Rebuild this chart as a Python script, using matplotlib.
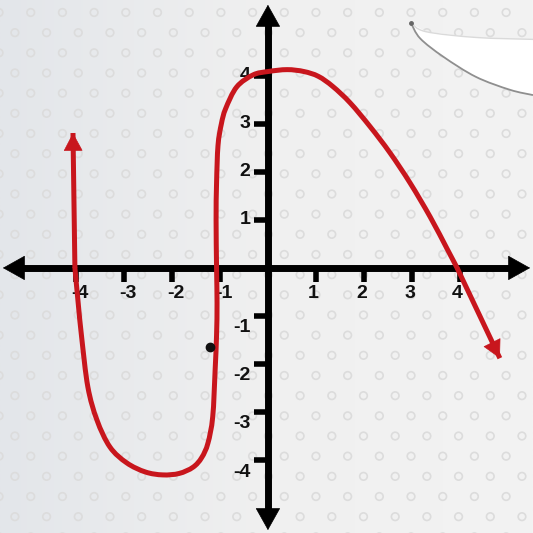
import numpy as np
import matplotlib
matplotlib.use('Agg')
import matplotlib.pyplot as plt
from matplotlib.patches import Polygon, PathPatch
from matplotlib.path import Path

# curve (data units)
curve_x = [-4.06, -4.02, -3.95, -3.88, -3.75, -3.56, -3.29, -2.94, -2.55, -2.19,
           -1.85, -1.56, -1.38, -1.25, -1.15, -1.10, -1.07, -1.06, -1.07, -1.08,
           -1.07, -1.04, -0.97, -0.88, -0.65, -0.31, 0.00, 0.40, 0.75, 1.05,
           1.35, 1.71, 2.13, 2.54, 2.96, 3.38, 3.73, 3.94, 4.83]
curve_y = [2.81, 0.00, -0.75, -1.44, -2.48, -3.17, -3.73, -4.06, -4.25, -4.31,
           -4.28, -4.15, -3.95, -3.65, -3.10, -2.13, -1.40, -0.73, 0.00, 1.00,
           1.77, 2.55, 3.00, 3.32, 3.77, 4.02, 4.09, 4.13, 4.09, 3.99,
           3.78, 3.44, 2.94, 2.40, 1.77, 1.06, 0.40, 0.00, -1.88]

dot_x, dot_y = [-1.21], [-1.65]

x_ticks = [-4, -3, -2, -1, 1, 2, 3, 4]
y_ticks = [-4, -3, -2, -1, 1, 2, 3, 4]

red = '#c8161d'


def smooth_path(xs, ys):
    # Catmull-Rom through the read points, drawn as cubic Bezier segments
    pts = np.column_stack([xs, ys])
    verts = [pts[0]]
    codes = [Path.MOVETO]
    n = len(pts)
    for i in range(n - 1):
        p0 = pts[max(i - 1, 0)]
        p1 = pts[i]
        p2 = pts[i + 1]
        p3 = pts[min(i + 2, n - 1)]
        verts += [p1 + (p2 - p0) / 6, p2 - (p3 - p1) / 6, p2]
        codes += [Path.CURVE4] * 3
    return Path(verts, codes)


fig = plt.figure(figsize=(5.33, 5.33), dpi=100)
ax = fig.add_axes([0, 0, 1, 1])
ax.set_xlim(-5.58, 5.52)
ax.set_ylim(-5.52, 5.58)
ax.axis('off')

# background: light gray with a faint ring pattern
grad = np.linspace(0, 1, 256)[None, :]
ax.imshow(grad, extent=(-5.58, 5.52, -5.52, 5.58), aspect='auto',
          cmap=matplotlib.colors.LinearSegmentedColormap.from_list('bg', ['#e3e6ea', '#f0f0f0', '#f3f3f3']),
          zorder=0)
rows = np.arange(-5.6, 5.7, 0.42)
for i, ry in enumerate(rows):
    cols = np.arange(-5.6 + (0.33 if i % 2 else 0), 5.7, 0.66)
    ax.scatter(cols, np.full_like(cols, ry), s=30, marker='o', facecolors='none',
               edgecolors='#dcdcdc', linewidths=1.2, zorder=1)

# paper curl in the top right corner
curl_top_x = [2.98, 3.29, 4.33, 5.52]
curl_top_y = [5.10, 4.92, 4.80, 4.76]
curl_bot_x = [2.98, 3.17, 3.65, 4.33, 5.04, 5.52]
curl_bot_y = [5.10, 4.78, 4.40, 3.98, 3.71, 3.60]
curl = Polygon(list(zip(curl_top_x, curl_top_y)) + list(zip(curl_bot_x[::-1], curl_bot_y[::-1])),
               closed=True, facecolor='white', edgecolor='none', zorder=2)
ax.add_patch(curl)
ax.add_patch(PathPatch(smooth_path(curl_bot_x, curl_bot_y), fill=False,
                       edgecolor='#8f8f8f', lw=1.3, zorder=2))
ax.add_patch(PathPatch(smooth_path(curl_top_x, curl_top_y), fill=False,
                       edgecolor='#dadada', lw=1.0, zorder=2))
ax.plot([2.98], [5.10], 'o', color='#666666', ms=2.5, zorder=2)

# axes: thick lines with triangular heads
ax.plot([-5.2, 5.15], [0, 0], color='black', lw=5, solid_capstyle='butt', zorder=3)
ax.plot([0, 0], [-5.15, 5.2], color='black', lw=5, solid_capstyle='butt', zorder=3)
ax_head = dict(arrowstyle='-|>,head_length=0.75,head_width=0.42', color='black', lw=0.5,
               shrinkA=0, shrinkB=0, mutation_scale=20)
for tip, base in [((5.46, 0), (4.9, 0)), ((-5.52, 0), (-4.9, 0)),
                  ((0, 5.48), (0, 4.9)), ((0, -5.46), (0, -4.9))]:
    ax.annotate('', xy=tip, xytext=base, arrowprops=ax_head, zorder=3)

for t in x_ticks:
    ax.plot([t, t], [0, -0.3], color='black', lw=4, solid_capstyle='butt', zorder=3)
    lx = t + (0.08 if t < 0 else -0.05)
    ax.text(lx, -0.36, str(t), ha='center', va='top', fontsize=14, fontweight='bold',
            color='#111111', family='Liberation Sans', zorder=4)
for t in y_ticks:
    ax.plot([0, -0.3], [t, t], color='black', lw=4, solid_capstyle='butt', zorder=3)
    ly = t - (0.25 if t < 0 else 0)
    ax.text(-0.37, ly, str(t), ha='right', va='center', fontsize=14, fontweight='bold',
            color='#111111', family='Liberation Sans', zorder=4)

# red curve with arrow heads at both ends
ax.add_patch(PathPatch(smooth_path(curve_x[1:-1], curve_y[1:-1]), fill=False, edgecolor=red,
                       lw=3.6, capstyle='round', joinstyle='round', zorder=5))
ax.plot(curve_x[:2], curve_y[:2], color=red, lw=3.6, solid_capstyle='butt', zorder=5)
ax.plot(curve_x[-2:], curve_y[-2:], color=red, lw=3.6, solid_capstyle='butt', zorder=5)
head = dict(arrowstyle='-|>,head_length=0.6,head_width=0.32', color=red, lw=0.5,
            shrinkA=0, shrinkB=0, mutation_scale=20)
ax.annotate('', xy=(curve_x[0], curve_y[0]), xytext=(curve_x[0] + 0.004, curve_y[0] - 0.4),
            arrowprops=head, zorder=6)
ax.annotate('', xy=(curve_x[-1], curve_y[-1]),
            xytext=(curve_x[-1] - 0.2, curve_y[-1] + 0.4), arrowprops=head, zorder=6)

ax.plot(dot_x, dot_y, 'o', color='#111111', ms=6, zorder=6)

fig.savefig('out.png', dpi=100)
